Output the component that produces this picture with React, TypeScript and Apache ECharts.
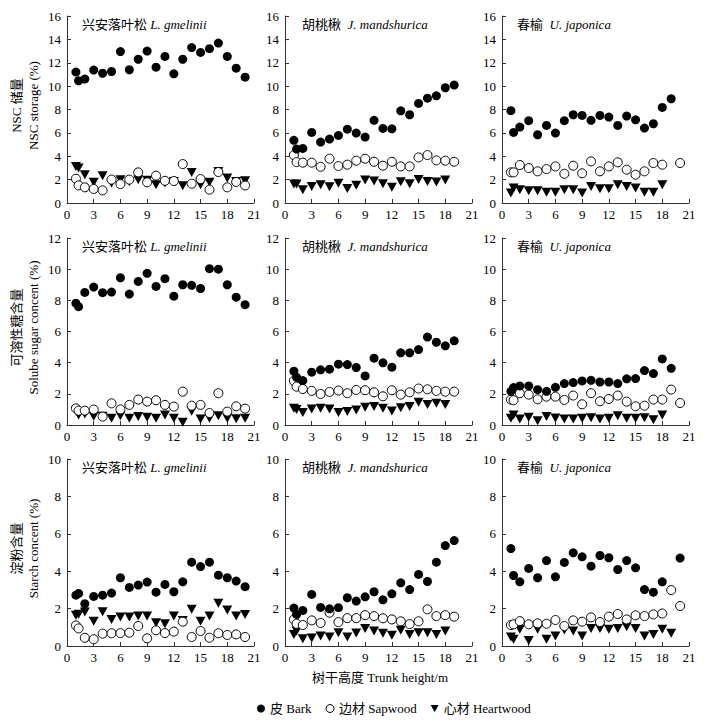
import React, { useEffect, useRef } from 'react';
import * as echarts from 'echarts';

// Trunk heights (m) at which samples were taken
const HEIGHTS = [1, 1.3, 2, 3, 4, 5, 6, 7, 8, 9, 10, 11, 12, 13, 14, 15, 16, 17, 18, 19, 20];
const X_TICKS = { min: 0, max: 21, interval: 3 };
const Y_MAX = [16, 12, 10];

const SPECIES_CN = ['兴安落叶松', '胡桃楸', '春榆'];
const SPECIES_LATIN = ['L. gmelinii', 'J. mandshurica', 'U. japonica'];
const ROW_NAME_CN = ['NSC 储量', '可溶性糖含量', '淀粉含量'];
const ROW_NAME_EN = ['NSC storage (%)', 'Solube sugar concent (%)', 'Starch concent (%)'];
const SERIES_NAMES = ['皮 Bark', '边材 Sapwood', '心材 Heartwood'];
const X_NAME = '树干高度 Trunk height/m';

// Row 1: NSC storage
const larchNscBark = [11.2, 10.46, 10.6, 11.37, 11.1, 11.25, 12.96, 11.4, 12.3, 13.0, 11.62, 12.54, 11.05, 12.3, 13.3, 12.88, 13.2, 13.68, 12.54, 11.54, 10.77];
const larchNscSap = [2.08, 1.51, 1.34, 1.2, 1.08, 2.0, 1.62, 2.0, 2.62, 1.77, 2.34, 1.9, 1.88, 3.33, 1.65, 2.05, 1.14, 2.65, 1.34, 1.8, 1.5];
const larchNscHeart = [3.13, 3.0, 2.42, 1.77, 2.34, 1.71, 2.0, 1.85, 2.0, 1.94, 1.57, 1.71, 1.85, 1.48, 2.62, 1.57, 1.77, 2.7, 2.14, 1.85, 1.9];

const juglNscBark = [5.36, 4.62, 4.67, 6.04, 5.21, 5.47, 5.78, 6.32, 5.98, 5.64, 7.07, 6.38, 6.35, 7.89, 7.55, 8.52, 8.97, 9.17, 9.86, 10.09, null];
const juglNscSap = [4.1, 3.5, 3.45, 3.45, 3.1, 3.79, 3.16, 3.28, 3.62, 3.79, 3.53, 3.19, 3.53, 3.13, 3.13, 3.9, 4.1, 3.65, 3.62, 3.53, null];
const juglNscHeart = [1.62, 1.62, 1.14, 1.42, 1.57, 1.4, 1.68, 1.25, 1.51, 1.97, 1.88, 1.65, 1.34, 1.82, 1.65, 2.02, 1.85, 1.8, 1.97, null, null];

const ulmNscBark = [7.9, 6.04, 6.5, 7.04, 5.84, 6.64, 5.98, 7.04, 7.55, 7.49, 7.07, 7.49, 7.35, 6.64, 7.44, 7.12, 6.41, 6.78, 8.18, 8.92, null];
const ulmNscSap = [2.62, 2.62, 3.25, 2.99, 2.71, 2.9, 3.13, 2.5, 3.19, 2.54, 3.56, 2.71, 3.13, 3.48, 2.85, 2.42, 2.71, 3.42, 3.28, null, 3.42];
const ulmNscHeart = [0.85, 1.28, 1.14, 1.05, 1.05, 0.91, 0.91, 1.14, 1.14, 0.85, 1.42, 1.22, 1.22, 1.57, 1.42, 1.28, 0.91, 0.91, 1.57, null, null];

// Row 2: soluble sugar
const larchSugBark = [7.82, 7.59, 8.51, 8.85, 8.49, 8.53, 9.45, 8.4, 9.21, 9.73, 8.89, 9.39, 8.27, 9.0, 8.96, 8.76, 10.03, 10.0, 9.0, 8.2, 7.72];
const larchSugSap = [1.07, 0.92, 0.92, 0.99, 0.54, 1.39, 1.0, 1.29, 1.63, 1.5, 1.59, 1.29, 1.18, 2.14, 1.24, 1.29, 0.77, 2.04, 0.86, 1.2, 1.05];
const larchSugHeart = [0.92, 0.64, 0.71, 0.56, 0.56, 0.43, 0.6, 0.43, 0.54, 0.49, 0.43, 0.64, 0.43, 0.17, 0.88, 0.39, 0.43, 0.6, 0.43, 0.4, 0.43];

const juglSugBark = [3.45, 3.06, 2.85, 3.39, 3.54, 3.58, 3.9, 3.88, 3.69, 3.15, 4.29, 3.99, 3.71, 4.63, 4.63, 4.84, 5.64, 5.31, 5.08, 5.4, null];
const juglSugSap = [2.83, 2.46, 2.31, 2.19, 1.99, 2.12, 2.21, 2.04, 2.25, 2.23, 2.1, 1.84, 2.23, 1.95, 2.1, 2.34, 2.29, 2.19, 2.14, 2.14, null];
const juglSugHeart = [1.07, 0.99, 0.81, 1.03, 1.07, 1.03, 0.81, 0.86, 0.96, 1.14, 1.18, 1.07, 0.9, 1.11, 1.18, 1.46, 1.31, 1.39, 1.31, null, null];

const ulmSugBark = [2.16, 2.4, 2.51, 2.51, 2.27, 2.16, 2.42, 2.66, 2.72, 2.83, 2.87, 2.76, 2.76, 2.66, 2.96, 2.98, 3.49, 3.3, 4.24, 3.64, null];
const ulmSugSap = [1.63, 1.59, 2.04, 1.95, 1.65, 1.82, 1.82, 1.61, 1.89, 1.33, 2.04, 1.52, 1.67, 1.89, 1.5, 1.2, 1.24, 1.63, 1.63, 2.27, 1.41];
const ulmSugHeart = [0.43, 0.64, 0.39, 0.49, 0.28, 0.54, 0.45, 0.39, 0.39, 0.43, 0.47, 0.39, 0.43, 0.6, 0.43, 0.43, 0.47, 0.34, 0.64, null, null];

// Row 3: starch
const larchStaBark = [2.72, 2.81, 2.26, 2.65, 2.72, 2.83, 3.65, 3.13, 3.26, 3.42, 2.88, 3.29, 2.9, 3.43, 4.48, 4.25, 4.48, 3.79, 3.65, 3.47, 3.17];
const larchStaSap = [1.1, 0.94, 0.44, 0.36, 0.66, 0.68, 0.69, 0.71, 1.07, 0.41, 0.84, 0.69, 0.77, 1.3, 0.48, 0.8, 0.44, 0.68, 0.59, 0.62, 0.48];
const larchStaHeart = [1.65, 1.7, 1.82, 1.33, 1.83, 1.42, 1.55, 1.55, 1.6, 1.6, 1.25, 1.19, 1.6, 1.37, 1.96, 1.33, 1.6, 2.28, 1.92, 1.6, 1.69];

const juglStaBark = [2.03, 1.69, 1.9, 2.76, 2.06, 1.99, 2.05, 2.58, 2.4, 2.63, 2.9, 2.47, 2.79, 3.38, 3.02, 3.83, 3.45, 4.48, 5.37, 5.64, null];
const juglStaSap = [1.42, 1.19, 1.12, 1.37, 1.23, 1.78, 1.28, 1.49, 1.49, 1.65, 1.6, 1.48, 1.42, 1.32, 1.17, 1.32, 1.96, 1.6, 1.65, 1.57, null];
const juglStaHeart = [0.62, 0.8, 0.39, 0.43, 0.53, 0.48, 0.71, 0.48, 0.69, 0.93, 0.8, 0.68, 0.57, 0.84, 0.62, 0.71, 0.71, 0.62, 0.8, null, null];

const ulmStaBark = [5.21, 3.77, 3.43, 4.15, 3.65, 4.57, 3.7, 4.47, 4.98, 4.77, 4.27, 4.84, 4.72, 4.09, 4.57, 4.18, 3.02, 2.88, 3.43, null, 4.7];
const ulmStaSap = [1.12, 1.16, 1.33, 1.16, 1.21, 1.19, 1.39, 1.07, 1.37, 1.3, 1.53, 1.28, 1.57, 1.71, 1.42, 1.64, 1.6, 1.69, 1.74, 2.99, 2.14];
const ulmStaHeart = [0.48, 0.36, 0.89, 0.3, 0.89, 0.36, 0.53, 0.85, 0.8, 0.53, 0.93, 0.93, 0.89, 0.93, 1.03, 0.93, 0.53, 0.62, 0.89, 0.68, null];

const PANELS = [
  [larchNscBark, larchNscSap, larchNscHeart],
  [juglNscBark, juglNscSap, juglNscHeart],
  [ulmNscBark, ulmNscSap, ulmNscHeart],
  [larchSugBark, larchSugSap, larchSugHeart],
  [juglSugBark, juglSugSap, juglSugHeart],
  [ulmSugBark, ulmSugSap, ulmSugHeart],
  [larchStaBark, larchStaSap, larchStaHeart],
  [juglStaBark, juglStaSap, juglStaHeart],
  [ulmStaBark, ulmStaSap, ulmStaHeart],
];

const FONT = "'Liberation Serif', 'Times New Roman', 'Noto Sans CJK SC', serif";
const TRI = 'path://M0,0L10,0L5,9Z';
const GRID_LEFT = [67, 285, 502];
const GRID_TOP = [16, 238, 459];
const GRID_W = 187;
const GRID_H = 187;
const AXIS_COLOR = '#333';

const STYLES = [
  { symbol: 'circle', symbolSize: 9, itemStyle: { color: '#000', opacity: 1 } },
  { symbol: 'circle', symbolSize: 9, itemStyle: { color: '#fff', borderColor: '#000', borderWidth: 1, opacity: 1 } },
  { symbol: TRI, symbolSize: [10, 9], itemStyle: { color: '#000', opacity: 1 } },
];

export default function App() {
  const ref = useRef<HTMLDivElement>(null);
  useEffect(() => {
    const chart = echarts.init(ref.current as HTMLDivElement, null, { renderer: 'svg' });
    const grid: any[] = [];
    const xAxis: any[] = [];
    const yAxis: any[] = [];
    const series: any[] = [];
    const title: any[] = [];
    for (let r = 0; r < 3; r++) {
      for (let c = 0; c < 3; c++) {
        const i = r * 3 + c;
        grid.push({ left: GRID_LEFT[c], top: GRID_TOP[r], width: GRID_W, height: GRID_H });
        xAxis.push({
          type: 'value', gridIndex: i, ...X_TICKS,
          axisLine: { show: true, onZero: false, lineStyle: { color: AXIS_COLOR, width: 1 } },
          axisTick: { show: true, inside: true, length: 4, lineStyle: { color: AXIS_COLOR } },
          splitLine: { show: false },
          axisLabel: { color: '#000', fontFamily: FONT, fontSize: 13, margin: 5 },
        });
        yAxis.push({
          type: 'value', gridIndex: i, min: 0, max: Y_MAX[r], interval: 2,
          axisLine: { show: true, onZero: false, lineStyle: { color: AXIS_COLOR, width: 1 } },
          axisTick: { show: true, inside: true, length: 4, lineStyle: { color: AXIS_COLOR } },
          splitLine: { show: false },
          axisLabel: { color: '#000', fontFamily: FONT, fontSize: 13, margin: 6 },
        });
        title.push({
          text: `{cn|${SPECIES_CN[c]}}{sp|${c === 0 ? ' ' : '  '}}{it|${SPECIES_LATIN[c]}}`,
          left: GRID_LEFT[c] + (c === 0 ? 15 : c === 1 ? 17 : 15),
          top: GRID_TOP[r] + 2,
          padding: 0,
          textStyle: {
            fontSize: 13, fontFamily: FONT, fontWeight: 'normal', color: '#000',
            rich: {
              cn: { fontSize: 13, fontFamily: FONT, color: '#000' },
              sp: { fontSize: 13, fontFamily: FONT },
              it: { fontSize: 13, fontFamily: FONT, fontStyle: 'italic', color: '#000' },
            },
          },
        });
        PANELS[i].forEach((vals, s) => {
          series.push({
            type: 'scatter', name: SERIES_NAMES[s], xAxisIndex: i, yAxisIndex: i,
            ...STYLES[s],
            emphasis: { disabled: true },
            z: 3 - s,
            data: HEIGHTS.map((h, k) => [h, vals[k]]).filter((p) => p[1] !== null),
          });
        });
      }
    }
    const graphic: any[] = [];
    for (let r = 0; r < 3; r++) {
      const cy = GRID_TOP[r] + GRID_H / 2 - 4;
      graphic.push({
        type: 'text', x: 16, y: cy, rotation: Math.PI / 2,
        style: { text: ROW_NAME_CN[r], fontSize: 13, fontFamily: FONT, fill: '#000', align: 'center', verticalAlign: 'middle' },
      });
      graphic.push({
        type: 'text', x: 33, y: cy, rotation: Math.PI / 2,
        style: { text: ROW_NAME_EN[r], fontSize: 13, fontFamily: FONT, fill: '#000', align: 'center', verticalAlign: 'middle' },
      });
    }
    graphic.push({
      type: 'text', x: 380, y: 677,
      style: { text: X_NAME, fontSize: 13, fontFamily: FONT, fill: '#000', align: 'center', verticalAlign: 'middle' },
    });
    chart.setOption({
      animation: false,
      backgroundColor: '#fff',
      title,
      grid,
      xAxis,
      yAxis,
      series,
      graphic,
      legend: {
        left: 252, top: 697, itemGap: 14, itemWidth: 8, itemHeight: 8,
        textStyle: { fontFamily: FONT, fontSize: 13, color: '#000' },
        data: [
          { name: SERIES_NAMES[0], icon: 'circle', itemStyle: { color: '#000', opacity: 1 } },
          { name: SERIES_NAMES[1], icon: 'circle', itemStyle: { color: '#fff', borderColor: '#000', borderWidth: 1, opacity: 1 } },
          { name: SERIES_NAMES[2], icon: TRI, itemStyle: { color: '#000', opacity: 1 } },
        ],
        selectedMode: false,
      },
    });
    return () => chart.dispose();
  }, []);
  return <div ref={ref} style={{ position: 'fixed', left: 0, top: 0, width: 710, height: 723, background: '#fff' }} />;
}
